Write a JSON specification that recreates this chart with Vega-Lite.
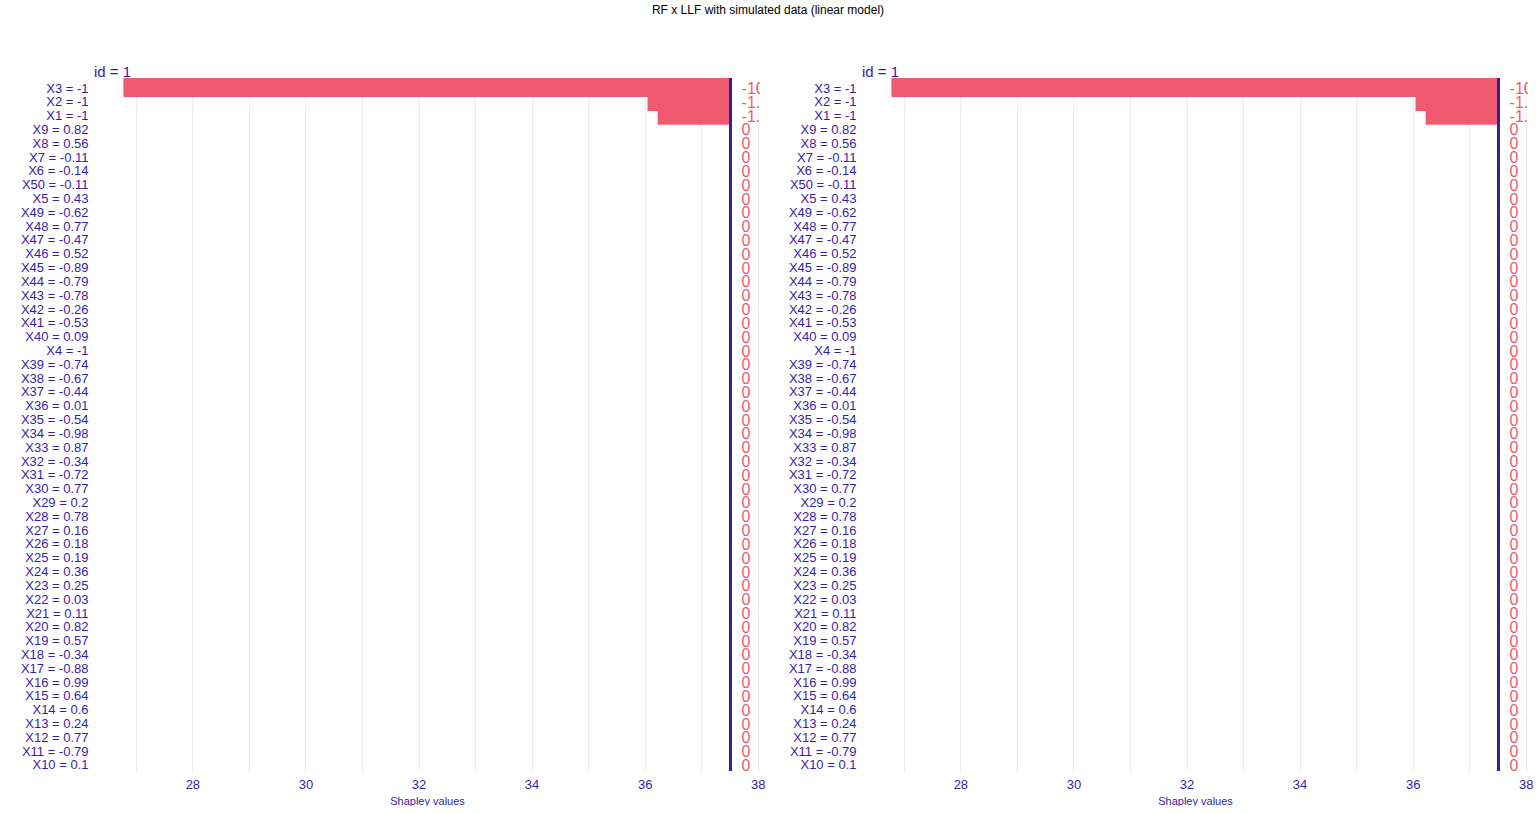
{
  "$schema": "https://vega.github.io/schema/vega-lite/v6.json",
  "background": "white",
  "padding": {"left": 5, "right": 5, "top": 4, "bottom": 0},
  "title": {"text": "RF x LLF with simulated data (linear model)", "fontSize": 12, "fontWeight": "normal", "color": "#000000", "font": "Liberation Sans", "anchor": "middle", "frame": "group", "dx": 674, "offset": 48},
  "bounds": "flush",
  "spacing": 102,
  "datasets": {
    "bd": [
      {"variable": "X3 = -1", "start": 26.78, "end": 37.52, "label": "-10.74"},
      {"variable": "X2 = -1", "start": 36.05, "end": 37.52, "label": "-1.47"},
      {"variable": "X1 = -1", "start": 36.23, "end": 37.52, "label": "-1.29"},
      {"variable": "X9 = 0.82", "start": 37.52, "end": 37.52, "label": "0"},
      {"variable": "X8 = 0.56", "start": 37.52, "end": 37.52, "label": "0"},
      {"variable": "X7 = -0.11", "start": 37.52, "end": 37.52, "label": "0"},
      {"variable": "X6 = -0.14", "start": 37.52, "end": 37.52, "label": "0"},
      {"variable": "X50 = -0.11", "start": 37.52, "end": 37.52, "label": "0"},
      {"variable": "X5 = 0.43", "start": 37.52, "end": 37.52, "label": "0"},
      {"variable": "X49 = -0.62", "start": 37.52, "end": 37.52, "label": "0"},
      {"variable": "X48 = 0.77", "start": 37.52, "end": 37.52, "label": "0"},
      {"variable": "X47 = -0.47", "start": 37.52, "end": 37.52, "label": "0"},
      {"variable": "X46 = 0.52", "start": 37.52, "end": 37.52, "label": "0"},
      {"variable": "X45 = -0.89", "start": 37.52, "end": 37.52, "label": "0"},
      {"variable": "X44 = -0.79", "start": 37.52, "end": 37.52, "label": "0"},
      {"variable": "X43 = -0.78", "start": 37.52, "end": 37.52, "label": "0"},
      {"variable": "X42 = -0.26", "start": 37.52, "end": 37.52, "label": "0"},
      {"variable": "X41 = -0.53", "start": 37.52, "end": 37.52, "label": "0"},
      {"variable": "X40 = 0.09", "start": 37.52, "end": 37.52, "label": "0"},
      {"variable": "X4 = -1", "start": 37.52, "end": 37.52, "label": "0"},
      {"variable": "X39 = -0.74", "start": 37.52, "end": 37.52, "label": "0"},
      {"variable": "X38 = -0.67", "start": 37.52, "end": 37.52, "label": "0"},
      {"variable": "X37 = -0.44", "start": 37.52, "end": 37.52, "label": "0"},
      {"variable": "X36 = 0.01", "start": 37.52, "end": 37.52, "label": "0"},
      {"variable": "X35 = -0.54", "start": 37.52, "end": 37.52, "label": "0"},
      {"variable": "X34 = -0.98", "start": 37.52, "end": 37.52, "label": "0"},
      {"variable": "X33 = 0.87", "start": 37.52, "end": 37.52, "label": "0"},
      {"variable": "X32 = -0.34", "start": 37.52, "end": 37.52, "label": "0"},
      {"variable": "X31 = -0.72", "start": 37.52, "end": 37.52, "label": "0"},
      {"variable": "X30 = 0.77", "start": 37.52, "end": 37.52, "label": "0"},
      {"variable": "X29 = 0.2", "start": 37.52, "end": 37.52, "label": "0"},
      {"variable": "X28 = 0.78", "start": 37.52, "end": 37.52, "label": "0"},
      {"variable": "X27 = 0.16", "start": 37.52, "end": 37.52, "label": "0"},
      {"variable": "X26 = 0.18", "start": 37.52, "end": 37.52, "label": "0"},
      {"variable": "X25 = 0.19", "start": 37.52, "end": 37.52, "label": "0"},
      {"variable": "X24 = 0.36", "start": 37.52, "end": 37.52, "label": "0"},
      {"variable": "X23 = 0.25", "start": 37.52, "end": 37.52, "label": "0"},
      {"variable": "X22 = 0.03", "start": 37.52, "end": 37.52, "label": "0"},
      {"variable": "X21 = 0.11", "start": 37.52, "end": 37.52, "label": "0"},
      {"variable": "X20 = 0.82", "start": 37.52, "end": 37.52, "label": "0"},
      {"variable": "X19 = 0.57", "start": 37.52, "end": 37.52, "label": "0"},
      {"variable": "X18 = -0.34", "start": 37.52, "end": 37.52, "label": "0"},
      {"variable": "X17 = -0.88", "start": 37.52, "end": 37.52, "label": "0"},
      {"variable": "X16 = 0.99", "start": 37.52, "end": 37.52, "label": "0"},
      {"variable": "X15 = 0.64", "start": 37.52, "end": 37.52, "label": "0"},
      {"variable": "X14 = 0.6", "start": 37.52, "end": 37.52, "label": "0"},
      {"variable": "X13 = 0.24", "start": 37.52, "end": 37.52, "label": "0"},
      {"variable": "X12 = 0.77", "start": 37.52, "end": 37.52, "label": "0"},
      {"variable": "X11 = -0.79", "start": 37.52, "end": 37.52, "label": "0"},
      {"variable": "X10 = 0.1", "start": 37.52, "end": 37.52, "label": "0"}
    ]
  },
  "hconcat": [
    {
      "width": 666,
      "height": 693,
      "data": {"name": "bd"},
      "title": {"text": "id = 1", "anchor": "start", "frame": "group", "fontSize": 15, "fontWeight": "normal", "color": "#371ea3", "font": "Liberation Sans", "offset": -3},
      "encoding": {
        "y": {"field": "variable", "type": "nominal", "sort": null, "title": null,
          "scale": {"paddingInner": 0, "paddingOuter": 0.08},
          "axis": {"ticks": false, "tickSize": 0, "domain": false, "grid": false, "labelColor": "#371ea3", "labelFontSize": 13, "labelFont": "Liberation Sans", "labelPadding": 6, "labelOffset": 2.5, "minExtent": 89, "maxExtent": 89}}
      },
      "layer": [
        {
          "mark": {"type": "bar", "color": "#f05a71", "height": {"band": 1.6}, "clip": true},
          "encoding": {
            "x": {"field": "start", "type": "quantitative", "title": "Shapley values",
              "scale": {"domain": [26.26, 38.04], "nice": false, "zero": false},
              "axis": {"values": [27, 28, 29, 30, 31, 32, 33, 34, 35, 36, 37, 38], "format": "d", "labelExpr": "datum.value % 2 == 0 ? datum.label : ''", "ticks": false, "tickSize": 0, "domain": false, "grid": true, "gridColor": "#ebebeb", "gridWidth": 1, "labelColor": "#371ea3", "labelFontSize": 13, "labelFont": "Liberation Sans", "labelPadding": 7, "titleColor": "#371ea3", "titleFontSize": 11, "titleFontWeight": "normal", "titleFont": "Liberation Sans", "titlePadding": 4}},
            "x2": {"field": "end"}
          }
        },
        {
          "mark": {"type": "rule", "color": "#371ea3", "strokeWidth": 1.5},
          "encoding": {"x": {"datum": 37.52, "type": "quantitative"}, "y": null}
        },
        {
          "mark": {"type": "text", "color": "#f05a71", "fontSize": 16, "font": "Liberation Sans", "align": "left", "baseline": "middle", "dx": 11, "dy": 3, "clip": true},
          "encoding": {
            "x": {"field": "end", "type": "quantitative"},
            "text": {"field": "label"}
          }
        }
      ]
    },
    {
      "width": 666,
      "height": 693,
      "data": {"name": "bd"},
      "title": {"text": "id = 1", "anchor": "start", "frame": "group", "fontSize": 15, "fontWeight": "normal", "color": "#371ea3", "font": "Liberation Sans", "offset": -3},
      "encoding": {
        "y": {"field": "variable", "type": "nominal", "sort": null, "title": null,
          "scale": {"paddingInner": 0, "paddingOuter": 0.08},
          "axis": {"ticks": false, "tickSize": 0, "domain": false, "grid": false, "labelColor": "#371ea3", "labelFontSize": 13, "labelFont": "Liberation Sans", "labelPadding": 6, "labelOffset": 2.5, "minExtent": 89, "maxExtent": 89}}
      },
      "layer": [
        {
          "mark": {"type": "bar", "color": "#f05a71", "height": {"band": 1.6}, "clip": true},
          "encoding": {
            "x": {"field": "start", "type": "quantitative", "title": "Shapley values",
              "scale": {"domain": [26.26, 38.04], "nice": false, "zero": false},
              "axis": {"values": [27, 28, 29, 30, 31, 32, 33, 34, 35, 36, 37, 38], "format": "d", "labelExpr": "datum.value % 2 == 0 ? datum.label : ''", "ticks": false, "tickSize": 0, "domain": false, "grid": true, "gridColor": "#ebebeb", "gridWidth": 1, "labelColor": "#371ea3", "labelFontSize": 13, "labelFont": "Liberation Sans", "labelPadding": 7, "titleColor": "#371ea3", "titleFontSize": 11, "titleFontWeight": "normal", "titleFont": "Liberation Sans", "titlePadding": 4}},
            "x2": {"field": "end"}
          }
        },
        {
          "mark": {"type": "rule", "color": "#371ea3", "strokeWidth": 1.5},
          "encoding": {"x": {"datum": 37.52, "type": "quantitative"}, "y": null}
        },
        {
          "mark": {"type": "text", "color": "#f05a71", "fontSize": 16, "font": "Liberation Sans", "align": "left", "baseline": "middle", "dx": 11, "dy": 3, "clip": true},
          "encoding": {
            "x": {"field": "end", "type": "quantitative"},
            "text": {"field": "label"}
          }
        }
      ]
    }
  ],
  "config": {"view": {"stroke": null}, "font": "Liberation Sans"}
}
